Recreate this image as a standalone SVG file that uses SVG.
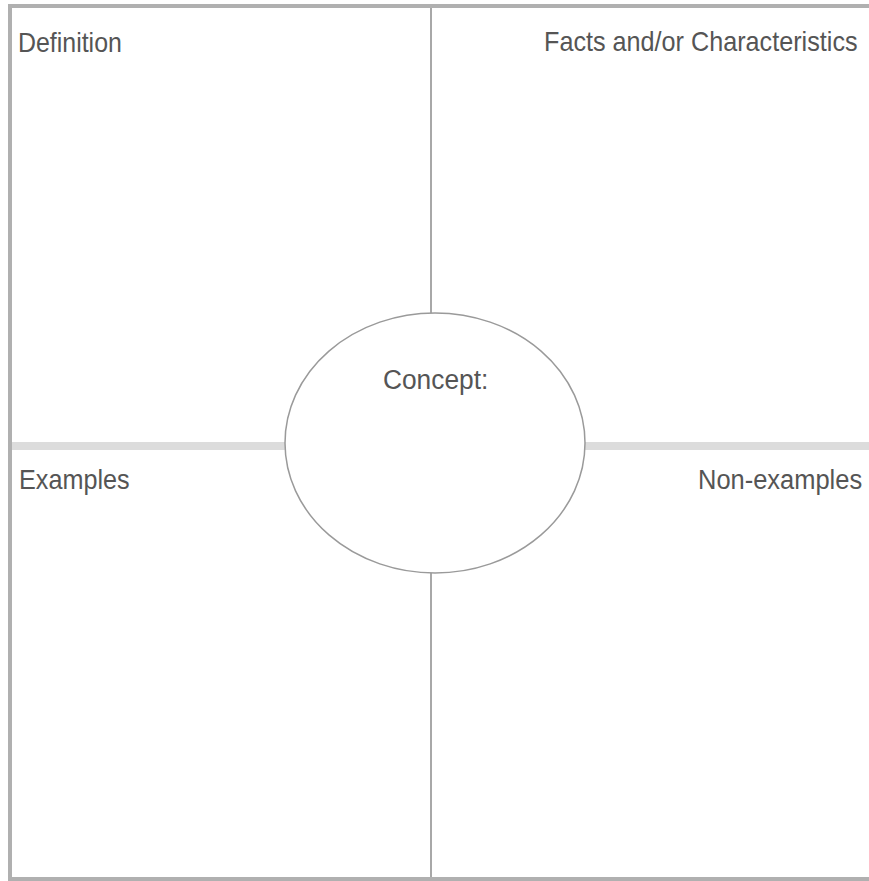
<svg xmlns="http://www.w3.org/2000/svg" width="869" height="881" viewBox="0 0 869 881">
<style>
.lbl{font-family:"Liberation Sans",Arial,sans-serif;font-size:28px;fill:#555555;}
.frame{fill:none;stroke:#b0b0b0;stroke-width:4;}
.vline{stroke:#a8a8a8;stroke-width:2;}
.hline{stroke:#dcdcdc;stroke-width:8;}
</style>
<rect width="869" height="881" fill="#ffffff"/>
<g id="frame">
<path class="frame" d="M10,881 V6 H869 M10,879 H869"/>
</g>
<g id="connectors">
<line class="vline" x1="431" y1="8" x2="431" y2="314"/>
<line class="vline" x1="431" y1="572" x2="431" y2="877"/>
<line class="hline" x1="12" y1="446" x2="286" y2="446"/>
<line class="hline" x1="585" y1="446" x2="869" y2="446"/>
</g>
<g id="definition"><text class="lbl" transform="translate(18,52) scale(0.89,1)">Definition</text></g>
<g id="facts"><text class="lbl" transform="translate(544,51) scale(0.9,1)">Facts and/or Characteristics</text></g>
<g id="concept">
<ellipse cx="435" cy="443" rx="150" ry="130" fill="#ffffff" stroke="#9a9a9a" stroke-width="1.5"/>
<text class="lbl" transform="translate(383,389) scale(0.94,1)">Concept:</text>
</g>
<g id="examples"><text class="lbl" transform="translate(19,489) scale(0.9,1)">Examples</text></g>
<g id="nonexamples"><text class="lbl" transform="translate(698,489) scale(0.91,1)">Non-examples</text></g>
</svg>
